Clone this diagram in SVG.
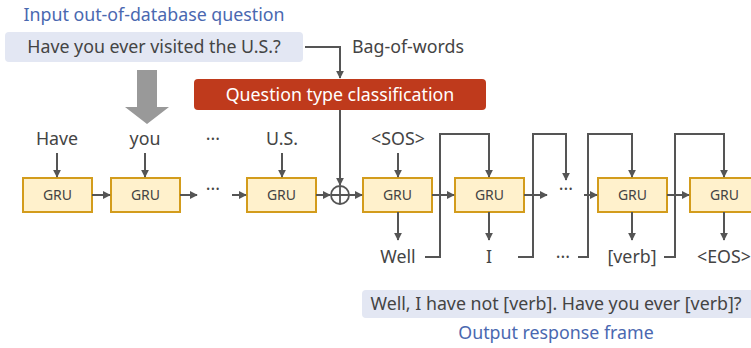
<svg xmlns="http://www.w3.org/2000/svg" width="751" height="348" viewBox="0 0 751 348">
<defs>
<style>
text{font-family:"Noto Sans","Open Sans","Liberation Sans",sans-serif;fill:#444;}
.t{font-size:17.8px;text-anchor:middle;}
.blue{fill:#4a68b0;font-size:17.8px;text-anchor:middle;}
.gru rect{fill:#fff1cc;stroke:#d39c1c;stroke-width:2;}
.gru text{font-size:14px;text-anchor:middle;}
.ln{fill:none;stroke:#555;stroke-width:2;}
.ar{fill:none;stroke:#555;stroke-width:2;marker-end:url(#ah);}
</style>
<marker id="ah" viewBox="0 0 10 10" refX="9" refY="5" markerWidth="4" markerHeight="4" orient="auto" markerUnits="strokeWidth">
<path d="M0,0 L10,5 L0,10 z" fill="#555"/>
</marker>
</defs>
<rect width="751" height="348" fill="#fff"/>

<g id="input">
<text class="blue" x="154" y="21">Input out-of-database question</text>
<rect x="5" y="32" width="298" height="30" rx="4" fill="#e3e7f3"/>
<text class="t" x="154" y="53">Have you ever visited the U.S.?</text>
</g>
<g id="bigarrow">
<path d="M137,70 H157 V107 H169 L147,124 L125,107 H137 Z" fill="#999"/>
</g>
<g id="classifier">
<rect x="194" y="79" width="292" height="31" rx="4" fill="#bf3a1c"/>
<text class="t" x="340" y="101" style="fill:#fff">Question type classification</text>
</g>
<text class="t" x="408" y="53">Bag-of-words</text>

<g id="words">
<text class="t" x="57" y="145">Have</text>
<text class="t" x="145" y="145">you</text>
<text class="t" x="213" y="145">···</text>
<text class="t" x="282" y="145">U.S.</text>
<text class="t" x="398" y="145">&lt;SOS&gt;</text>
<text class="t" x="213" y="195">···</text>
<text class="t" x="566" y="195">···</text>
<text class="t" x="398" y="263">Well</text>
<text class="t" x="489" y="263">I</text>
<text class="t" x="563" y="263">···</text>
<text class="t" x="632" y="263">[verb]</text>
<text class="t" x="724" y="263">&lt;EOS&gt;</text>
</g>

<g id="gru1" class="gru"><rect x="23" y="178" width="69" height="34"/><text x="57.5" y="200">GRU</text></g>
<g id="gru2" class="gru"><rect x="111" y="178" width="69" height="34"/><text x="145.5" y="200">GRU</text></g>
<g id="gru3" class="gru"><rect x="247" y="178" width="69" height="34"/><text x="281.5" y="200">GRU</text></g>
<g id="gru4" class="gru"><rect x="363" y="178" width="69" height="34"/><text x="397.5" y="200">GRU</text></g>
<g id="gru5" class="gru"><rect x="455" y="178" width="69" height="34"/><text x="489.5" y="200">GRU</text></g>
<g id="gru6" class="gru"><rect x="598" y="178" width="69" height="34"/><text x="632.5" y="200">GRU</text></g>
<g id="gru7" class="gru"><rect x="690" y="178" width="69" height="34"/><text x="724.5" y="200">GRU</text></g>

<g id="sum">
<circle cx="340" cy="195" r="9" fill="#fff" stroke="#555" stroke-width="1.8"/>
<path d="M331,195 H349 M340,186 V204" stroke="#555" stroke-width="1.8"/>
</g>

<g id="connectors">
<path class="ar" d="M305,47 H340 V78"/>
<path class="ar" d="M340,110 V185"/>
<path class="ar" d="M57,153 V177"/>
<path class="ar" d="M145,153 V177"/>
<path class="ar" d="M282,153 V177"/>
<path class="ar" d="M398,153 V177"/>
<path class="ar" d="M92,195 H110"/>
<path class="ar" d="M180,195 H197"/>
<path class="ar" d="M232,195 H246"/>
<path class="ar" d="M316,195 H330"/>
<path class="ar" d="M349,195 H362"/>
<path class="ar" d="M432,195 H454"/>
<path class="ar" d="M524,195 H547"/>
<path class="ar" d="M584,195 H597"/>
<path class="ar" d="M667,195 H689"/>
<path class="ar" d="M398,212 V240"/>
<path class="ar" d="M489,212 V240"/>
<path class="ar" d="M632,212 V240"/>
<path class="ar" d="M724,212 V240"/>
<path class="ar" d="M425,257 H440 V134 H489 V177"/>
<path class="ar" d="M518,257 H533 V134 H566 V180"/>
<path class="ar" d="M578,257 H588 V134 H632 V177"/>
<path class="ar" d="M664,257 H675 V134 H724 V177"/>
</g>

<g id="output">
<rect x="362" y="290" width="395" height="28" rx="4" fill="#e3e7f3"/>
<text class="t" x="556" y="310">Well, I have not [verb]. Have you ever [verb]?</text>
<text class="blue" x="556" y="339">Output response frame</text>
</g>
</svg>
